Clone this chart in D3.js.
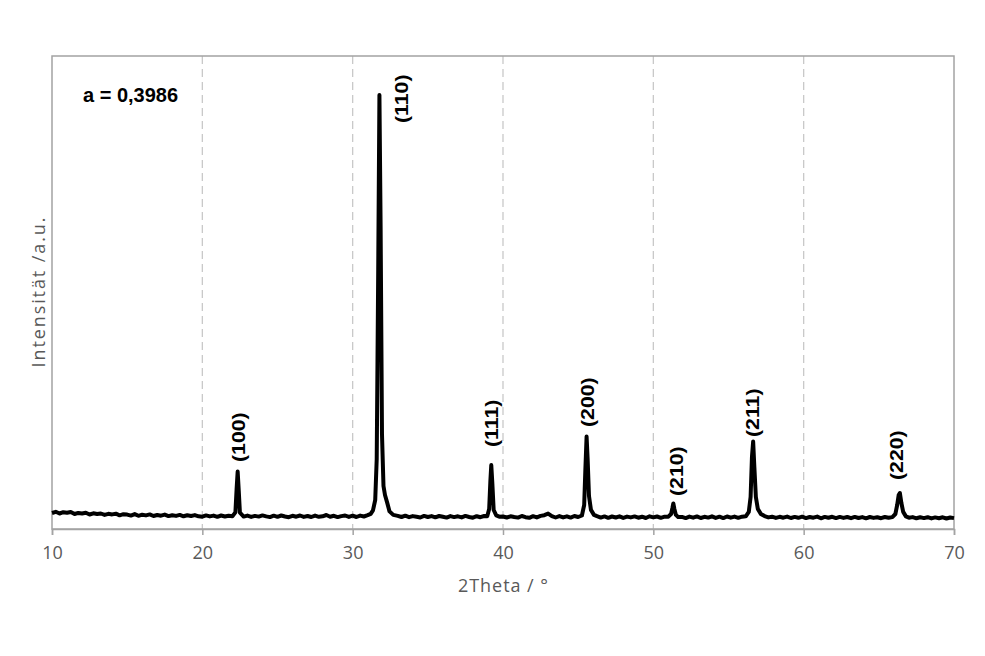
<!DOCTYPE html>
<html>
<head>
<meta charset="utf-8">
<script src="https://cdn.jsdelivr.net/npm/d3@7"></script>
<style>
  html, body { margin: 0; padding: 0; background: #fff; }
  svg { display: block; }
</style>
</head>
<body>
<div id="chart"></div>
<script>
// ---- Data (2Theta in degrees, intensity in arbitrary units) ----
const twoTheta = [
  10.00,10.25,10.50,10.75,11.00,11.25,11.50,11.75,12.00,12.25,12.50,12.75,13.00,13.25,13.50,13.75,14.00,14.25,14.50,14.75,
  15.00,15.25,15.50,15.75,16.00,16.25,16.50,16.75,17.00,17.25,17.50,17.75,18.00,18.25,18.50,18.75,19.00,19.25,19.50,19.75,
  20.00,20.25,20.50,20.75,21.00,21.25,21.50,21.75,
  22.00,22.20,22.28,22.35,22.42,22.50,22.75,
  23.00,23.25,23.50,23.75,24.00,24.25,24.50,24.75,25.00,25.25,25.50,25.75,26.00,26.25,26.50,26.75,
  27.00,27.25,27.50,27.75,28.00,28.25,28.50,28.75,29.00,29.25,29.50,29.75,30.00,30.25,30.50,30.75,
  31.00,31.20,31.35,31.50,31.60,31.70,31.78,31.86,31.95,32.05,32.15,32.30,32.45,32.70,
  33.00,33.25,33.50,33.75,34.00,34.25,34.50,34.75,35.00,35.25,35.50,35.75,36.00,36.25,36.50,36.75,
  37.00,37.25,37.50,37.75,38.00,38.25,38.50,38.75,
  38.95,39.08,39.16,39.22,39.29,39.38,39.55,39.75,
  40.00,40.25,40.50,40.75,41.00,41.25,41.50,41.75,42.00,42.25,42.50,42.75,43.00,43.25,43.50,43.75,
  44.00,44.25,44.50,44.75,45.00,
  45.25,45.40,45.48,45.56,45.63,45.72,45.85,46.05,
  46.25,46.50,46.75,47.00,47.25,47.50,47.75,48.00,48.25,48.50,48.75,49.00,49.25,49.50,49.75,50.00,
  50.25,50.50,50.75,51.00,
  51.18,51.27,51.33,51.40,51.50,51.65,
  51.90,52.15,52.40,52.65,52.90,53.15,53.40,53.65,53.90,54.15,54.40,54.65,54.90,55.15,55.40,55.65,55.90,56.15,
  56.35,56.47,56.56,56.64,56.72,56.82,56.95,57.15,57.40,
  57.65,57.90,58.15,58.40,58.65,58.90,59.15,59.40,59.65,59.90,60.15,60.40,60.65,60.90,61.15,61.40,
  61.65,61.90,62.15,62.40,62.65,62.90,63.15,63.40,63.65,63.90,64.15,64.40,64.65,64.90,65.15,65.40,65.65,65.90,
  66.10,66.22,66.32,66.40,66.50,66.62,66.80,
  67.00,67.25,67.50,67.75,68.00,68.25,68.50,68.75,69.00,69.25,69.50,69.75,70.00
];
const intensity = [
  160,172,155,168,162,170,150,161,155,163,145,157,150,155,141,152,146,153,137,148,
  144,134,149,132,143,136,146,130,140,133,144,129,138,131,141,127,137,130,139,127,
  123,136,126,134,122,135,125,133,
  127,166,400,575,390,163,124,
  134,121,131,124,136,126,119,133,122,135,125,118,132,123,135,121,
  130,120,134,122,127,140,123,132,119,129,135,121,133,120,134,125,
  138,151,186,290,700,2600,4340,3000,950,430,340,261,176,141,
  131,120,133,118,129,122,115,131,120,129,117,130,122,114,129,119,
  127,116,131,120,113,128,118,130,
  127,200,480,640,460,190,136,123,
  125,115,127,120,114,130,118,112,128,116,131,138,154,129,115,129,
  116,127,114,130,120,
  135,240,600,925,700,330,191,141,
  128,114,126,112,125,115,127,111,124,116,126,113,123,110,127,116,
  125,112,123,123,
  150,210,255,200,141,120,
  121,109,124,113,126,110,122,114,127,111,123,109,125,113,124,112,123,127,
  171,320,720,875,620,320,201,151,129,
  116,123,111,122,113,124,110,121,112,123,109,120,113,124,107,121,
  112,122,109,121,111,120,108,121,110,119,107,120,111,118,108,120,112,119,
  150,240,340,360,260,171,126,
  113,119,107,117,109,118,106,116,108,117,105,115,109
];

const xTicks = [10, 20, 30, 40, 50, 60, 70];
const peakLabels = ["(100)", "(110)", "(111)", "(200)", "(210)", "(211)", "(220)"];
// label anchor (start of rotated text) in data units: 2Theta and intensity
const labelTheta = [22.37, 33.22, 39.20, 45.59, 51.51, 56.56, 66.14];
const labelAt    = [670, 4060, 820, 1020, 330, 920, 490];
const latticeText = "a = 0,3986";
const xTitle = "2Theta / °";
const yTitle = "Intensität /a.u.";

// ---- Layout ----
const W = 985, H = 656;
const mLeft = 52, mRight = 954, mTop = 56, mBottom = 529;
const axisFont = "'Open Sans', 'Noto Sans', sans-serif";
const boldFont = "'Liberation Sans', Arial, sans-serif";

const svg = d3.select("#chart").append("svg")
  .attr("width", W).attr("height", H)
  .attr("font-family", axisFont);

const x = d3.scaleLinear().domain([10, 70]).range([mLeft, mRight]);
const y = d3.scaleLinear().domain([0, 4730]).range([mBottom, mTop]);

// vertical dashed gridlines
svg.append("g").selectAll("line")
  .data(xTicks.slice(1, -1))
  .join("line")
  .attr("x1", d => x(d)).attr("x2", d => x(d))
  .attr("y1", mTop).attr("y2", mBottom)
  .attr("stroke", "#c9c9c9").attr("stroke-width", 1.3)
  .attr("stroke-dasharray", "8,5");

// frame
svg.append("rect")
  .attr("x", mLeft).attr("y", mTop)
  .attr("width", mRight - mLeft).attr("height", mBottom - mTop)
  .attr("fill", "none").attr("stroke", "#a3a3a3").attr("stroke-width", 1.5);

// x axis
const xAxis = d3.axisBottom(x).tickValues(xTicks).tickSize(6).tickPadding(11).tickFormat(d3.format("d"));
const gx = svg.append("g").attr("transform", `translate(0,${mBottom})`).call(xAxis);
gx.select(".domain").attr("stroke", "#a3a3a3").attr("stroke-width", 1.5);
gx.selectAll(".tick line").attr("stroke", "#a3a3a3").attr("stroke-width", 1.5);
gx.selectAll(".tick text")
  .attr("font-family", axisFont)
  .attr("font-size", 18).attr("fill", "#595959");

// axis titles
svg.append("text")
  .attr("x", (mLeft + mRight) / 2).attr("y", 592)
  .attr("text-anchor", "middle")
  .attr("font-size", 18).attr("fill", "#595959")
  .attr("textLength", 90).attr("lengthAdjust", "spacing")
  .text(xTitle);

svg.append("text")
  .attr("transform", `translate(45,${(mTop + mBottom) / 2}) rotate(-90)`)
  .attr("text-anchor", "middle")
  .attr("font-size", 18).attr("fill", "#595959")
  .attr("textLength", 150).attr("lengthAdjust", "spacing")
  .text(yTitle);

// pattern line
const line = d3.line()
  .x((d, i) => x(twoTheta[i]))
  .y(d => y(d))
  .curve(d3.curveLinear);

svg.append("path")
  .datum(intensity)
  .attr("d", line)
  .attr("fill", "none")
  .attr("stroke", "#000")
  .attr("stroke-width", 4)
  .attr("stroke-linejoin", "round");

// peak labels (rotated)
svg.append("g").selectAll("text")
  .data(peakLabels)
  .join("text")
  .attr("transform", (d, i) => `translate(${x(labelTheta[i])},${y(labelAt[i])}) rotate(-90) scale(1.12,1)`)
  .attr("dy", "0.36em")
  .attr("text-anchor", "start")
  .attr("font-family", boldFont)
  .attr("font-weight", "bold")
  .attr("font-size", 19)
  .attr("fill", "#000")
  .text(d => d);

// lattice parameter annotation
svg.append("text")
  .attr("x", 83).attr("y", 102)
  .attr("font-family", boldFont)
  .attr("font-weight", "bold")
  .attr("font-size", 20)
  .attr("fill", "#000")
  .text(latticeText);
</script>
</body>
</html>
